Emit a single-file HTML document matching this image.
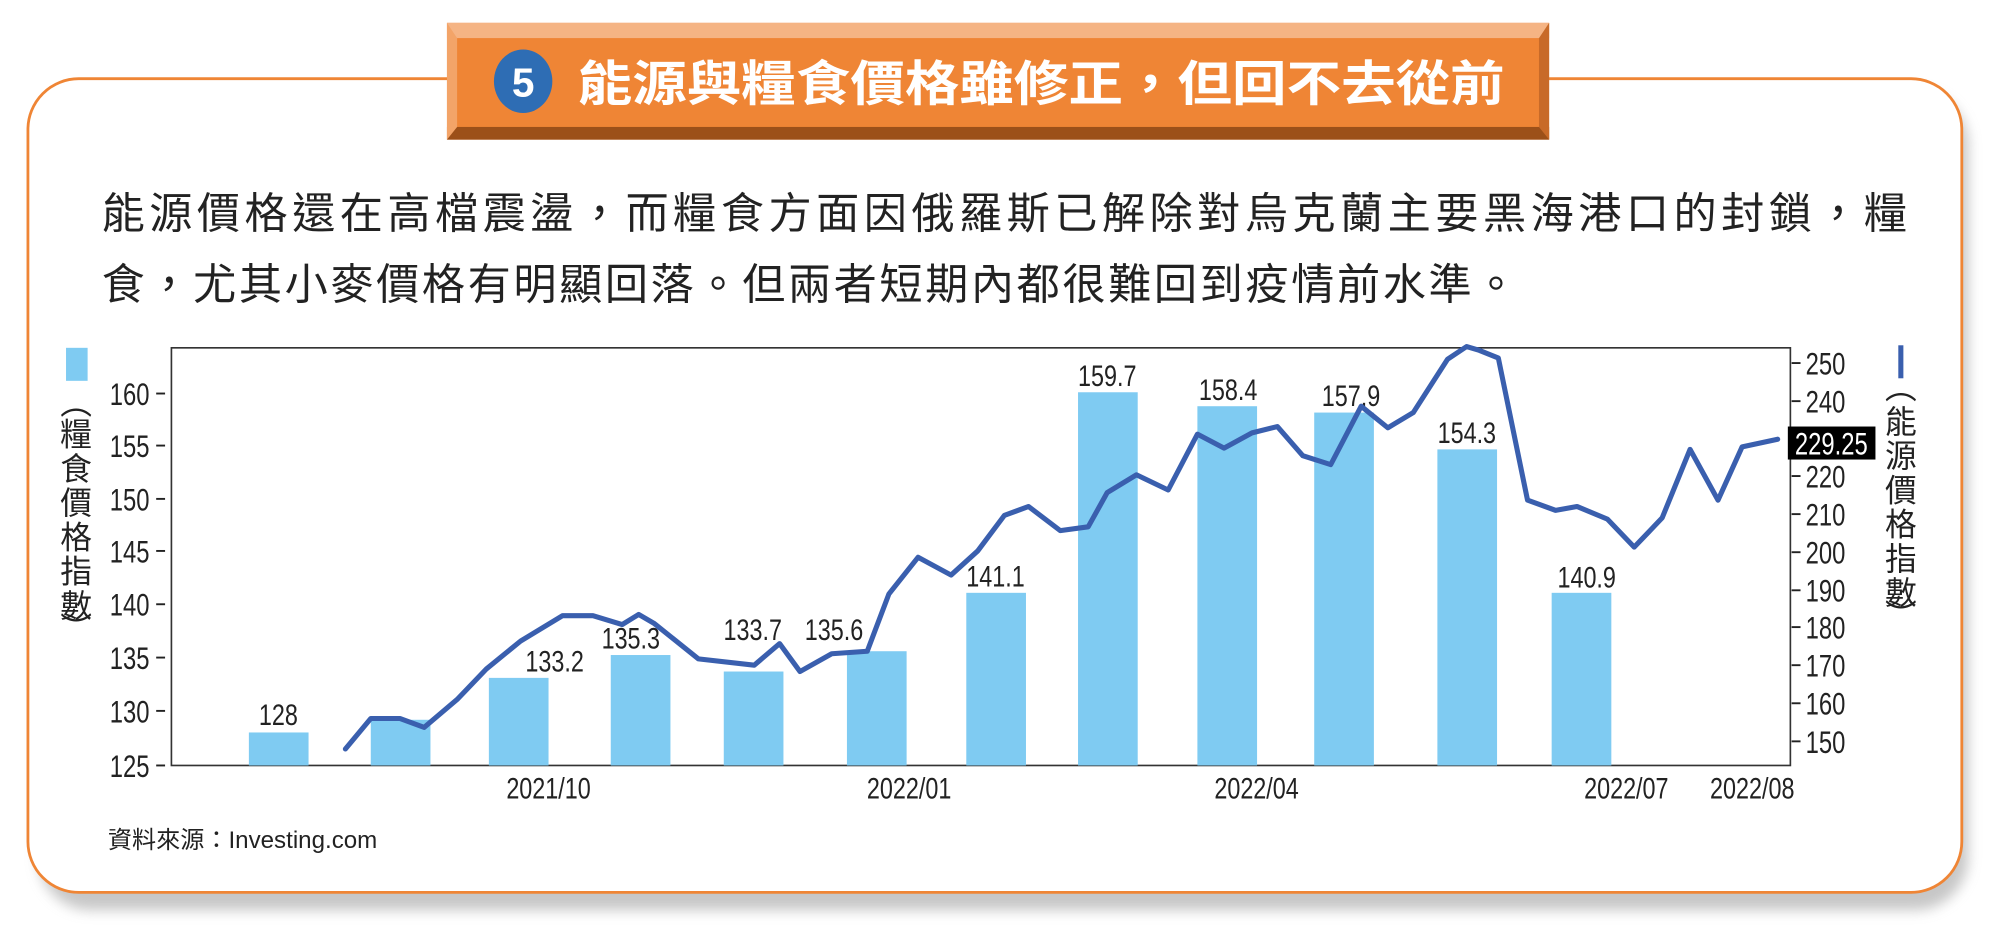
<!DOCTYPE html>
<html><head><meta charset="utf-8"><style>
html,body{margin:0;padding:0;background:#fff;width:1991px;height:947px;overflow:hidden}
text{font-family:"Liberation Sans","Noto Sans CJK TC",sans-serif}
</style></head><body>
<svg width="1991" height="947" viewBox="0 0 1568 746" preserveAspectRatio="none" xmlns="http://www.w3.org/2000/svg">
<defs>
<filter id="sh" x="-5%" y="-5%" width="110%" height="115%"><feGaussianBlur stdDeviation="5"/></filter>
</defs>
<rect x="30" y="72" width="1520" height="645" rx="42" fill="#999" opacity="0.55" filter="url(#sh)"/>
<rect x="22" y="62" width="1523" height="641" rx="40" fill="#fff" stroke="#ef8535" stroke-width="2.2"/>
<!-- banner -->
<rect x="352" y="18" width="868" height="92" fill="#ef8535"/>
<rect x="352" y="18" width="868" height="12" fill="#f5b484"/>
<rect x="352" y="100" width="868" height="10" fill="#9c5019"/>
<polygon points="352,18 360,30 360,100 352,110" fill="#f3a468"/>
<polygon points="1220,18 1212,30 1212,100 1220,110" fill="#c86a28"/>
<ellipse cx="412" cy="64" rx="23" ry="25" fill="#2e6db4"/>
<text x="412" y="76" text-anchor="middle" font-size="32" fill="#fff" font-weight="bold">5</text>
<text x="455" y="79" font-size="38" fill="#fff" font-weight="bold" textLength="730" lengthAdjust="spacingAndGlyphs">能源與糧食價格雖修正，但回不去從前</text>
<!-- body -->
<text x="80" y="180" font-size="34" fill="#222" textLength="1422" lengthAdjust="spacing">能源價格還在高檔震盪，而糧食方面因俄羅斯已解除對烏克蘭主要黑海港口的封鎖，糧</text>
<text x="80" y="236" font-size="34" fill="#222" textLength="1115" lengthAdjust="spacing">食，尤其小麥價格有明顯回落。但兩者短期內都很難回到疫情前水準。</text>
<!-- plot frame -->
<rect x="135" y="274" width="1275" height="329" fill="none" stroke="#333" stroke-width="1.3"/>
<g stroke="#222" stroke-width="1.5">
<line x1="123" y1="603" x2="130" y2="603"/><line x1="123" y1="560" x2="130" y2="560"/><line x1="123" y1="518" x2="130" y2="518"/><line x1="123" y1="476" x2="130" y2="476"/><line x1="123" y1="434" x2="130" y2="434"/><line x1="123" y1="393" x2="130" y2="393"/><line x1="123" y1="351" x2="130" y2="351"/><line x1="123" y1="310" x2="130" y2="310"/>
<line x1="1411" y1="286" x2="1418" y2="286"/><line x1="1411" y1="316" x2="1418" y2="316"/><line x1="1411" y1="346" x2="1418" y2="346"/><line x1="1411" y1="375" x2="1418" y2="375"/><line x1="1411" y1="405" x2="1418" y2="405"/><line x1="1411" y1="435" x2="1418" y2="435"/><line x1="1411" y1="465" x2="1418" y2="465"/><line x1="1411" y1="494" x2="1418" y2="494"/><line x1="1411" y1="524" x2="1418" y2="524"/><line x1="1411" y1="554" x2="1418" y2="554"/><line x1="1411" y1="584" x2="1418" y2="584"/>
</g>
<!-- left ticks (condensed) -->
<g transform="scale(0.75,1)" font-size="25" fill="#222" text-anchor="end">
<text x="157" y="612">125</text><text x="157" y="569">130</text><text x="157" y="527">135</text><text x="157" y="485">140</text><text x="157" y="443">145</text><text x="157" y="402">150</text><text x="157" y="360">155</text><text x="157" y="319">160</text>
</g>
<g transform="scale(0.75,1)" font-size="25" fill="#222">
<text x="1896" y="295">250</text><text x="1896" y="325">240</text><text x="1896" y="384">220</text><text x="1896" y="414">210</text><text x="1896" y="444">200</text><text x="1896" y="474">190</text><text x="1896" y="503">180</text><text x="1896" y="533">170</text><text x="1896" y="563">160</text><text x="1896" y="593">150</text>
</g>
<rect x="1408" y="336" width="69" height="26" fill="#000"/>
<text transform="scale(0.75,1)" x="1923" y="358" text-anchor="middle" font-size="25" fill="#fff">229.25</text>
<!-- bars -->
<g fill="#7fcbf2">
<rect x="196" y="577" width="47" height="26"/>
<rect x="292" y="567" width="47" height="36"/>
<rect x="385" y="534" width="47" height="69"/>
<rect x="481" y="516" width="47" height="87"/>
<rect x="570" y="529" width="47" height="74"/>
<rect x="667" y="513" width="47" height="90"/>
<rect x="761" y="467" width="47" height="136"/>
<rect x="849" y="309" width="47" height="294"/>
<rect x="943" y="320" width="47" height="283"/>
<rect x="1035" y="325" width="47" height="278"/>
<rect x="1132" y="354" width="47" height="249"/>
<rect x="1222" y="467" width="47" height="136"/>
</g>
<g transform="scale(0.8,1)" font-size="23" fill="#222" text-anchor="middle">
<text x="274" y="571">128</text><text x="546" y="529">133.2</text><text x="621" y="511">135.3</text><text x="741" y="504">133.7</text><text x="821" y="504">135.6</text><text x="980" y="462">141.1</text><text x="1090" y="304">159.7</text><text x="1209" y="315">158.4</text><text x="1330" y="320">157.9</text><text x="1444" y="349">154.3</text><text x="1562" y="463">140.9</text>
</g>
<polyline fill="none" stroke="#3a5fae" stroke-width="4" stroke-linejoin="round" stroke-linecap="round" points="272,590 292,566 315,566 334,573 360,551 383,527 410,505 443,485 467,485 490,492 503,484 515,491 530,503 550,519 594,524 614,507 630,529 655,515 683,513 700,468 723,439 749,453 770,434 791,406 810,399 835,418 857,415 872,388 895,374 920,386 943,342 964,353 986,341 1006,336 1026,359 1048,366 1072,320 1093,337 1113,325 1140,283 1155,273 1165,276 1180,282 1203,394 1225,402 1242,399 1266,409 1287,431 1309,408 1331,354 1353,394 1372,352 1400,346"/>
<!-- x labels -->
<g transform="scale(0.8,1)" font-size="23" fill="#222" text-anchor="middle">
<text x="540" y="629">2021/10</text><text x="895" y="629">2022/01</text><text x="1237" y="629">2022/04</text><text x="1601" y="629">2022/07</text><text x="1725" y="629">2022/08</text>
</g>
<!-- legends -->
<rect x="52" y="274" width="17" height="26" fill="#7fcbf2"/>
<g font-size="25" fill="#222" text-anchor="middle">
<text x="60" y="326">︵</text><text x="60" y="351">糧</text><text x="60" y="378">食</text><text x="60" y="405">價</text><text x="60" y="432">格</text><text x="60" y="459">指</text><text x="60" y="486">數</text><text x="60" y="504">︶</text>
</g>
<line x1="1497" y1="272" x2="1497" y2="298" stroke="#3a5fae" stroke-width="4"/>
<g font-size="25" fill="#222" text-anchor="middle">
<text x="1497" y="314">︵</text><text x="1497" y="341">能</text><text x="1497" y="368">源</text><text x="1497" y="395">價</text><text x="1497" y="422">格</text><text x="1497" y="449">指</text><text x="1497" y="476">數</text><text x="1497" y="494">︶</text>
</g>
<text x="85" y="668" font-size="19" fill="#222">資料來源：Investing.com</text>
</svg>
</body></html>
